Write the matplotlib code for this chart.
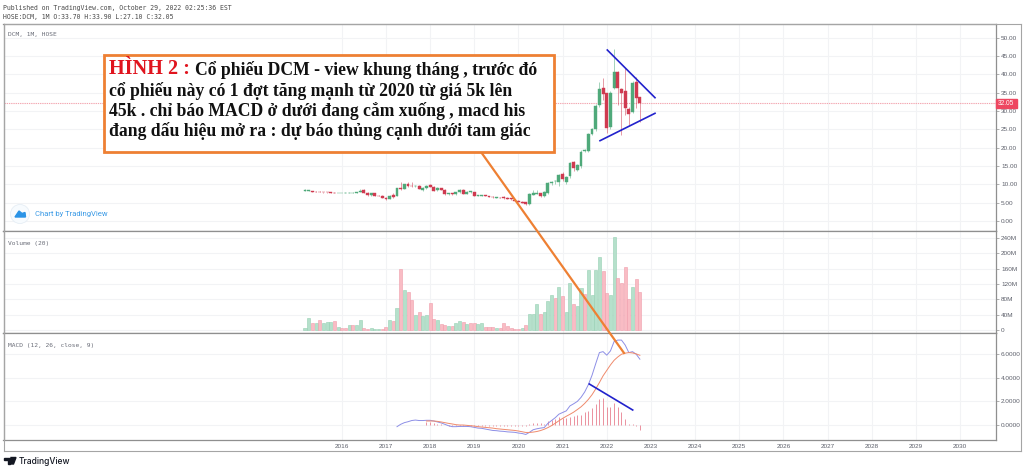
import matplotlib
matplotlib.use("Agg")
import matplotlib.pyplot as plt
from matplotlib.patches import Rectangle, Polygon, Circle
from matplotlib.lines import Line2D

W, H = 1024, 471

# Monthly bars from Mar 2015 to Oct 2022
opens = [8.3,8.3,8.2,8.0,8.0,7.9,7.9,7.9,7.7,7.6,7.6,7.6,7.7,7.7,7.7,8.0,8.4,7.7,7.0,7.6,6.9,6.9,6.4,6.0,7.2,
         6.9,9.1,8.8,10.1,9.6,9.5,9.6,8.5,8.9,9.8,9.35,8.5,8.9,8.5,7.3,7.5,7.3,7.8,8.45,7.4,8.0,7.8,6.9,6.9,7.0,6.8,6.65,6.4,6.4,6.5,6.4,6.3,5.7,5.5,5.3,5.1,
         4.5,7.2,7.45,7.55,6.85,7.7,10.3,10.8,10.5,12.8,10.5,12.4,16.1,13.9,15.1,19.0,19.2,23.6,25.0,31.6,36.2,34.8,25.7,36.4,40.6,35.9,35.5,30.5,29.8,38.0,33.7]
highs = [8.6,8.5,8.3,8.2,8.1,8.0,8.0,8.0,7.8,7.7,7.7,7.8,7.8,7.8,7.9,8.7,8.7,7.8,7.7,7.7,7.1,7.2,6.5,7.0,7.6,
         8.95,10.5,10.2,10.7,10.6,9.7,9.8,9.2,9.7,10.2,9.5,9.2,9.1,8.6,7.6,7.6,8.0,8.6,8.6,8.1,8.3,7.9,7.2,7.2,7.1,6.9,6.7,6.5,6.5,6.7,6.5,6.4,5.8,5.6,5.4,5.2,
         7.5,8.45,8.5,7.7,8.1,10.5,11.0,11.3,12.8,13.3,12.2,16.1,16.4,15.5,19.5,19.6,24.0,25.3,31.8,38.0,38.9,35.0,35.5,46.8,40.8,36.2,41.6,31.2,38.2,39.4,33.9]
lows = [8.2,8.2,7.9,7.9,7.8,7.7,7.7,7.7,7.5,7.5,7.5,7.5,7.6,7.6,7.6,7.9,7.6,6.9,6.9,6.8,6.7,6.2,5.8,5.9,6.4,
        6.7,8.5,8.7,9.4,9.4,9.4,8.6,8.3,8.7,9.3,8.2,8.3,8.4,7.2,7.2,7.2,7.2,7.7,7.3,7.3,7.6,6.7,6.8,6.8,6.7,6.5,6.3,6.3,6.2,6.1,6.0,5.7,5.4,5.1,4.9,4.4,
        4.4,7.1,7.3,6.6,6.5,7.4,9.7,10.2,9.6,11.0,10.0,11.8,13.7,13.5,14.4,18.8,18.8,23.4,24.5,31.0,33.0,24.0,25.0,36.0,31.6,23.5,28.9,26.2,29.5,30.7,27.1]
closes = [8.4,8.35,8.0,7.95,7.9,7.85,7.85,7.75,7.6,7.6,7.6,7.7,7.7,7.7,8.0,8.3,7.7,7.0,7.6,6.9,6.8,6.3,5.9,6.9,6.5,
          8.9,8.6,10.1,9.45,9.5,9.6,8.7,9.1,9.6,9.35,8.3,9.1,8.5,7.3,7.5,7.3,7.9,8.45,7.4,8.0,8.2,6.8,7.1,7.1,6.8,6.6,6.45,6.5,6.35,6.2,6.1,5.9,5.5,5.2,5.0,4.7,
          7.4,7.55,7.65,6.85,8.0,10.3,10.7,11.0,12.6,11.4,11.9,15.7,14.4,15.2,18.9,19.3,23.6,25.0,31.5,35.9,34.6,25.3,34.8,40.6,36.2,35.0,30.8,29.2,37.7,33.5,32.05]

volumes = [6,30,19,19,25,18,20,20,23,9,6,4,12,13,13,26,5,3,4,2,2,2,9,26,23,58,160,104,98,78,39,46,36,39,70,29,26,16,13,10,10,19,23,20,15,18,18,16,
           19,8,8,8,6,4,17,11,5,3,3,6,13,41,41,67,41,48,76,91,83,111,89,48,122,67,63,109,93,156,91,157,189,154,96,91,242,135,123,163,81,112,132,99]
volume_up = [1,1,0,1,0,1,1,1,0,1,0,0,1,0,1,1,0,0,1,1,1,0,0,1,0,1,0,1,0,0,1,0,1,1,0,0,1,0,0,1,0,1,1,0,1,0,0,1,
             1,0,0,0,1,0,0,0,0,0,0,1,0,1,1,1,0,1,1,1,0,1,0,1,1,0,1,1,0,1,1,1,1,0,0,1,1,0,0,0,0,1,0,0]

macd_start = 25
macd_line = [-.14,.06,.2,.28,.38,.42,.38,.38,.4,.4,.34,.26,.18,.06,-.06,-.14,-.14,-.12,-.12,-.12,-.14,-.2,-.26,-.28,-.34,-.4,-.46,-.48,-.52,-.54,-.58,-.6,-.62,-.68,-.72,-.8,
             -.62,-.4,-.32,-.26,-.22,.14,.38,.62,.92,1.06,1.2,1.62,1.8,2.0,2.34,2.8,3.42,4.22,5.2,6.14,6.22,5.92,6.28,7.08,7.2,7.2,6.78,6.14,6.22,6.0,5.58]
signal_start = 33
signal_line = [.34,.34,.34,.31,.26,.2,.14,.09,.03,0,0,-.03,-.06,-.09,-.14,-.17,-.2,-.23,-.26,-.31,-.34,-.37,-.4,-.43,-.46,-.51,-.57,-.63,-.63,-.6,-.55,-.47,-.36,-.22,-.05,.15,
               .36,.56,.74,.91,1.09,1.31,1.54,1.83,2.17,2.57,3.06,3.6,4.17,4.63,5.09,5.49,5.77,6.0,6.09,6.14,6.11,6.03,5.91]
hist_start = 33
histogram = [.25,.25,.15,.1,.06,.04,-.1,-.1,-.12,-.12,-.12,-.12,-.1,-.1,-.12,-.12,-.12,-.12,-.12,-.12,-.12,-.12,-.12,-.12,-.12,-.12,-.12,-.12,
             .05,.15,.15,.15,.1,.35,.45,.55,.65,.6,.6,.7,.75,.85,.85,1.1,1.2,1.45,1.8,2.2,2.3,1.5,1.5,1.85,1.5,1.1,.55,.05,.05,-.1,-.45]

year_ticks = list(range(10, 179, 12))
year_labels = [str(y) for y in range(2016, 2031)]
price_ticks = [0,5,10,15,20,25,30,35,40,45,50]
volume_ticks = [0,40,80,120,160,200,240]
volume_labels = ["0","40M","80M","120M","160M","200M","240M"]
macd_ticks = [0,2,4,6]
last_price = 32.05

headline_red = "HÌNH 2 :"
note_lines = ["Cổ phiếu DCM - view khung tháng , trước đó",
              "cổ phiếu này có 1 đợt tăng mạnh từ 2020 từ giá 5k lên",
              "45k . chỉ báo MACD ở dưới đang cắm xuống , macd his",
              "đang dấu hiệu mở ra : dự báo thủng cạnh dưới tam giác"]

GREEN, RED = "#4fa97a", "#cf3a50"
VG, VR = "#b5e0cb", "#f9bcc4"
VGE, VRE = "#96cfb3", "#ef9dab"
GRID, BORDER, TXT = "#f2f3f5", "#8f8f8f", "#5d606b"

fig = plt.figure(figsize=(W/100, H/100), dpi=100, facecolor="white")

def px_axes(x0, y0, x1, y1):
    return fig.add_axes([x0/W, 1-y1/H, (x1-x0)/W, (y1-y0)/H])

def fx(x): return x/W
def fy(y): return 1-y/H

L, R = 3.5, 995.5
xlim = ((L-305)/3.68, (R-305)/3.68)
ax_p = px_axes(L, 23.5, R, 231)
ax_v = px_axes(L, 231, R, 333)
ax_m = px_axes(L, 333, R, 440)

for ax, ticks in ((ax_p, price_ticks), (ax_v, volume_ticks), (ax_m, macd_ticks)):
    ax.set_xlim(*xlim)
    ax.set_xticks(year_ticks)
    ax.set_yticks(ticks)
    ax.yaxis.tick_right()
    ax.grid(True, color=GRID, lw=0.8)
    ax.set_axisbelow(True)
    ax.tick_params(axis="x", length=0, labelbottom=False)
    ax.tick_params(axis="y", length=2.5, width=0.5, color=BORDER, labelsize=4.6, labelcolor=TXT, pad=1.5)
    for s in ax.spines.values():
        s.set_color(BORDER); s.set_linewidth(0.9)
    for lab in ax.get_yticklabels():
        lab.set_family("Liberation Sans")

ax_p.set_ylim(-2.73, 53.87)
ax_p.set_yticklabels([f"{t:.2f}" for t in price_ticks])
ax_v.set_ylim(-7.8, 258)
ax_v.set_yticklabels(volume_labels)
ax_m.set_ylim(-1.27, 7.8)
ax_m.set_yticklabels([f"{t:.4f}" for t in macd_ticks])

# candles
idx = list(range(len(closes)))
for i in idx:
    c = GREEN if closes[i] >= opens[i] else RED
    ax_p.vlines(i, lows[i], highs[i], color=c, lw=0.6, alpha=0.6, zorder=2)
    ax_p.bar(i, abs(closes[i]-opens[i]), bottom=min(opens[i], closes[i]), width=0.78,
             color=c, edgecolor=c, lw=0.3, zorder=3)
ax_p.axhline(last_price, color="#f3a7b1", lw=0.8, ls=(0, (1.2, 0.8)), zorder=1)

# volume
ax_v.bar(idx, volumes, width=0.82,
         color=[VG if u else VR for u in volume_up],
         edgecolor=[VGE if u else VRE for u in volume_up], lw=0.4, zorder=3)

# MACD
ax_m.vlines(range(hist_start, hist_start+len(histogram)), 0, histogram, color="#e8808f", lw=0.6, zorder=2)
ax_m.plot(range(macd_start, macd_start+len(macd_line)), macd_line, color="#8d8fe6", lw=0.7, zorder=3)
ax_m.plot(range(signal_start, signal_start+len(signal_line)), signal_line, color="#ef8a6c", lw=0.7, zorder=4)

# year labels
for t, lab in zip(year_ticks, year_labels):
    ax_m.annotate(lab, xy=(t, 0), xycoords=("data", "axes fraction"), xytext=(0, -2.7), textcoords="offset points",
                  ha="center", va="top", fontsize=4.6, color=TXT, family="Liberation Sans", annotation_clip=False)

# chrome
for (x0, y0, x1, y1) in [(3.5, 23.5, 3.5, 450.5), (3.5, 450.5, 1020.5, 450.5), (3.5, 23.5, 1020.5, 23.5), (1020.5, 23.5, 1020.5, 450.5)]:
    fig.add_artist(Line2D([fx(x0), fx(x1)], [fy(y0), fy(y1)], color="#a5a5a5", lw=0.8))

mono = "DejaVu Sans Mono"
fig.text(fx(3), fy(8), "Published on TradingView.com, October 29, 2022 02:25:36 EST", fontsize=4.7, family=mono, color="#4a4a4a", va="center")
fig.text(fx(3), fy(17.5), "HOSE:DCM, 1M O:33.70 H:33.90 L:27.10 C:32.05", fontsize=4.7, family=mono, color="#4a4a4a", va="center")
for y, s in ((34.5, "DCM, 1M, HOSE"), (243, "Volume (20)"), (346, "MACD (12, 26, close, 9)")):
    fig.text(fx(8), fy(y), s, fontsize=4.5, family=mono, color="#6a6d78", va="center")

# last-price tag
tag_y = 221 - 3.666*last_price
fig.add_artist(Rectangle((fx(995.5), fy(tag_y+4.5)), 21.5/W, 9/H, color="#ee4660", zorder=6))
fig.text(fx(1006), fy(tag_y), f"{last_price:.2f}", fontsize=4.7, color="white", ha="center", va="center", family="Liberation Sans", zorder=7)

# "Chart by TradingView"
ax_p.add_patch(Circle((20, 214), 9, transform=None, alpha=0))
pxscale = fig.dpi_scale_trans
fig.add_artist(Circle((20*fig.dpi/100, (H-214)*fig.dpi/100), 9.5, transform=None, facecolor="#f7fbfe", edgecolor="#e6eef5", lw=0.6, zorder=5))
fig.add_artist(Polygon([(fx(15), fy(217)), (fx(19), fy(211)), (fx(22), fy(213.5)), (fx(25), fy(212.5)), (fx(25.5), fy(217))], color="#2a93e6", zorder=6))
fig.text(fx(35), fy(214), "Chart by TradingView", fontsize=5.5, color="#3a9ae6", family="Roboto", va="center")

# annotation lines
fig.add_artist(Line2D([fx(481), fx(624)], [fy(152), fy(353)], color="#ee8033", lw=1.6, zorder=8))
for (x0, y0, x1, y1) in [(607.3, 50, 655, 97.7), (600, 140.7, 655, 113.3), (589.3, 384, 632.7, 410)]:
    fig.add_artist(Line2D([fx(x0), fx(x1)], [fy(y0), fy(y1)], color="#2222cc", lw=1.2, zorder=8))

# note box
fig.add_artist(Rectangle((fx(104), fy(151.7)), 449.5/W, 96.4/H, facecolor="white", edgecolor="#ee8033", lw=2.0, zorder=9))
serif = "Liberation Serif"
fig.text(fx(109), fy(68.5), headline_red, fontsize=14.6, color="#e0141e", weight="bold", family=serif, va="center", zorder=10)
fig.text(fx(195), fy(70), note_lines[0], fontsize=12.7, color="#111111", weight="bold", family=serif, va="center", zorder=10)
for y, s in zip((90.5, 110.5, 130.5), note_lines[1:]):
    fig.text(fx(109), fy(y), s, fontsize=12.7, color="#111111", weight="bold", family=serif, va="center", zorder=10)

# TradingView footer
fig.add_artist(Polygon([(fx(4), fy(457.5)), (fx(10), fy(457.5)), (fx(10), fy(464)), (fx(7.5), fy(464)), (fx(7.5), fy(460)), (fx(4), fy(460))], color="#131722"))
fig.add_artist(Polygon([(fx(11), fy(457.5)), (fx(16), fy(457.5)), (fx(13.5), fy(464)), (fx(10.5), fy(464))], color="#131722"))
fig.text(fx(19), fy(461), "TradingView", fontsize=6.1, color="#131722", family="Inter", weight="medium", va="center")

fig.savefig("out.png", dpi=100, facecolor="white")
